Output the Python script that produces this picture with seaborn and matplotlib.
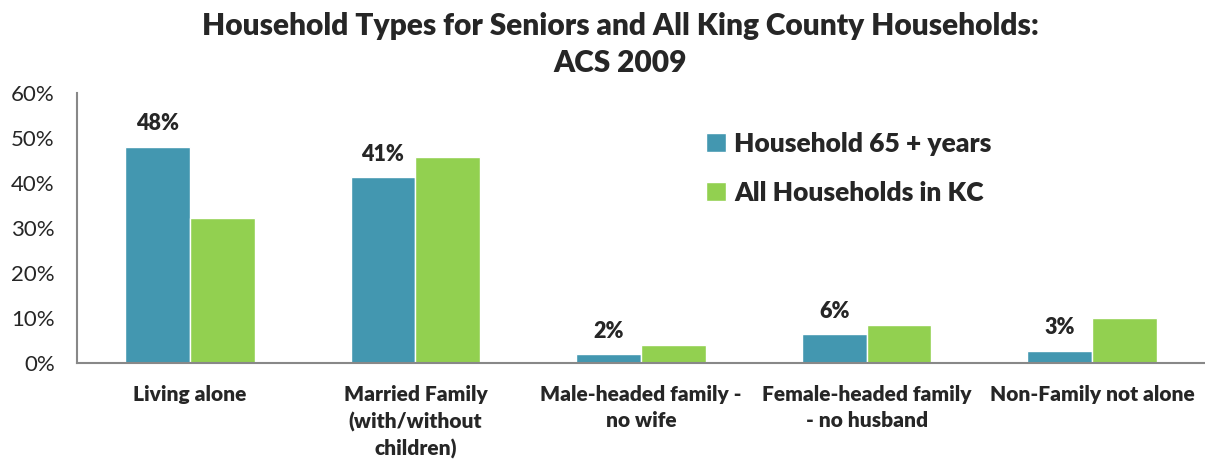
import pandas as pd
import matplotlib
matplotlib.use("Agg")
import matplotlib.pyplot as plt
import seaborn as sns

sns.set_theme(style="white")
plt.rcParams['font.family'] = ['Lato', 'DejaVu Sans']

# -------------------------------
# Data
# -------------------------------
categories = [
    "Living alone",
    "Married Family\n(with/without\nchildren)",
    "Male-headed family -\nno wife",
    "Female-headed family\n- no husband",
    "Non-Family not alone",
]
seniors = [48.0, 41.3, 2.0, 6.4, 2.7]
all_kc = [32.2, 45.8, 4.0, 8.4, 10.0]
senior_labels = ["48%", "41%", "2%", "6%", "3%"]
series_names = ["Household 65 + years", "All Households in KC"]
colors = ["#4397B0", "#92D050"]

df = pd.DataFrame({
    "category": categories * 2,
    "value": seniors + all_kc,
    "series": [series_names[0]] * 5 + [series_names[1]] * 5,
})

fig = plt.figure(figsize=(12.05, 4.62), dpi=100)
ax = fig.add_axes([77 / 1205, 1 - 363 / 462, 1 - 77 / 1205, 270 / 462])

sns.barplot(data=df, x="category", y="value", hue="series", palette=colors,
            width=0.575, saturation=1, ax=ax, legend=True)

ax.set_ylim(0, 60)
ax.set_xlim(-0.5, 4.5)
ax.set_yticks(range(0, 61, 10))
ax.set_yticklabels([f"{v}%" for v in range(0, 61, 10)], fontsize=16)
ax.tick_params(axis="y", length=0, pad=16)
ax.tick_params(axis="x", length=0, labelsize=15, pad=16)
for lbl in ax.get_xticklabels():
    lbl.set_fontweight("heavy")
    lbl.set_linespacing(1.45)
ax.set_xlabel("")
ax.set_ylabel("")
for s in ["top", "right"]:
    ax.spines[s].set_visible(False)
for s in ["left", "bottom"]:
    ax.spines[s].set_color("#888888")
    ax.spines[s].set_linewidth(1.5)

# labels above the senior bars
for p, txt in zip(ax.containers[0], senior_labels):
    ax.annotate(txt, (p.get_x() + p.get_width() / 2, p.get_height()),
                xytext=(0, 9), textcoords="offset points",
                ha="center", va="bottom", fontsize=15.5, fontweight="heavy")

leg = ax.legend(loc="upper left", bbox_to_anchor=(0.537, 0.945), frameon=False,
                prop={"weight": "heavy", "size": 19}, handlelength=0.75,
                handleheight=0.75, handletextpad=0.3, labelspacing=0.95)

fig.suptitle("Household Types for Seniors and All King County Households:\nACS 2009",
             fontsize=21.5, fontweight="heavy", x=0.515, y=0.975, linespacing=1.4)

fig.savefig("out.png", dpi=100)
plt.close(fig)
